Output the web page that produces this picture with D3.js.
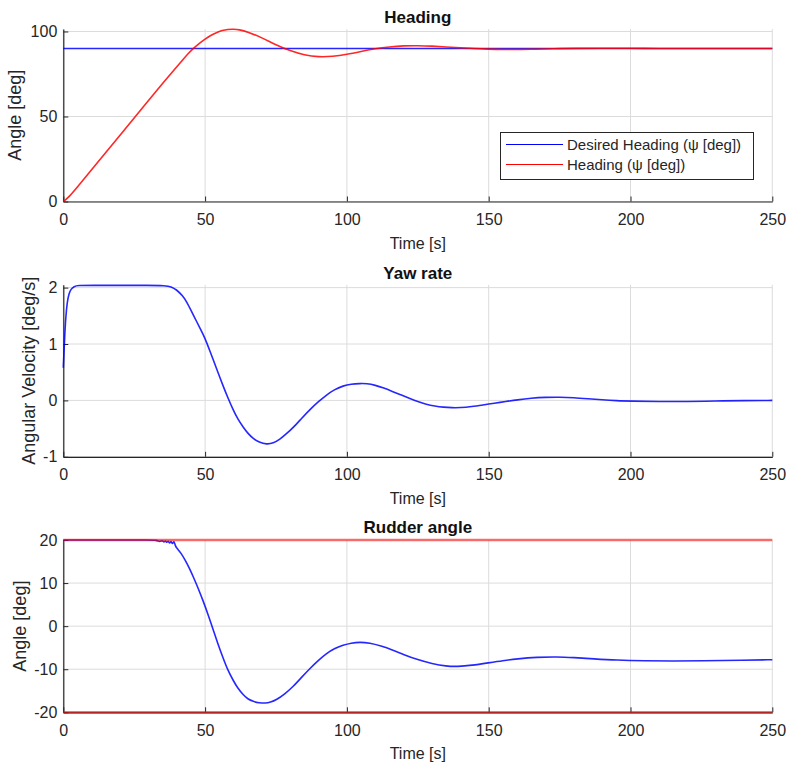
<!DOCTYPE html>
<html>
<head>
<meta charset="utf-8">
<script src="https://cdn.jsdelivr.net/npm/d3@7"></script>
<style>
  body { margin: 0; background: #fff; }
  svg { display: block; }
  text { font-family: "Liberation Sans", Arial, sans-serif; fill: #262626; }
</style>
</head>
<body>
<div id="chart"></div>
<script>
// ---- data ----
const timeTicks = [0, 50, 100, 150, 200, 250];

// heading
const headingTime = [0, 2, 5, 10, 20, 30, 35, 40, 42, 44, 46, 48, 50, 52, 54, 56, 58, 60, 62, 65, 70, 75, 80, 85, 90, 95, 100, 105, 110, 115, 120, 125, 130, 135, 140, 145, 150, 155, 160, 165, 170, 175, 180, 190, 200, 210, 220, 230, 250];
const headingDeg = [0, 2.6, 8.6, 18.7, 39, 59.3, 69.4, 79.2, 83.1, 87, 90.3, 93.1, 95.6, 97.7, 99.4, 100.6, 101.3, 101.4, 101.1, 99.8, 96.4, 92.1, 88.6, 86.1, 85, 85.3, 86.5, 88.2, 89.9, 91, 91.6, 91.7, 91.4, 90.9, 90.4, 90, 89.6, 89.4, 89.4, 89.5, 89.7, 89.9, 90.05, 90.15, 90.1, 90.02, 89.97, 90, 90];
const desiredTime = [0, 250];
const desiredDeg = [90, 90];
const headingTicks = [0, 50, 100];

// yaw rate
const yawTime = [0, 0.2, 0.5, 0.9, 1.4, 2, 2.8, 3.8, 5, 10, 20, 30, 36, 38, 40, 42, 43.5, 45, 47, 48.5, 50, 51.5, 52.9, 54.5, 56.4, 58, 59.9, 61.5, 63.5, 65, 67, 69, 71.7, 74, 76.4, 78.5, 81.1, 84, 87, 90, 92.9, 95.5, 98.7, 101.5, 104.6, 107, 110, 113, 116, 119, 122, 125, 128, 131, 134, 137, 140, 144, 148, 152, 156, 160, 165, 170, 175, 180, 185, 190, 195, 200, 210, 220, 230, 240, 250];
const yawRate = [0.58, 0.8, 1.15, 1.5, 1.75, 1.9, 1.98, 2.02, 2.04, 2.04, 2.04, 2.04, 2.035, 2.02, 1.96, 1.86, 1.75, 1.6, 1.4, 1.25, 1.1, 0.9, 0.72, 0.5, 0.25, 0.05, -0.17, -0.33, -0.48, -0.58, -0.68, -0.74, -0.78, -0.76, -0.69, -0.6, -0.48, -0.32, -0.16, -0.02, 0.1, 0.19, 0.26, 0.29, 0.3, 0.3, 0.27, 0.22, 0.16, 0.1, 0.04, -0.02, -0.07, -0.1, -0.12, -0.13, -0.13, -0.11, -0.08, -0.05, -0.02, 0.01, 0.04, 0.055, 0.058, 0.05, 0.03, 0.01, -0.005, -0.012, -0.02, -0.02, -0.01, -0.003, 0];
const yawTicks = [-1, 0, 1, 2];

// rudder angle
const rudderTime = [0, 10, 20, 30, 33, 34, 35, 35.5, 36, 36.5, 37, 37.5, 38, 38.5, 39, 39.5, 40, 41.5, 43, 44.5, 46, 47.5, 49.4, 51, 52.9, 54.5, 56.4, 58, 59.9, 61.5, 63.5, 65, 67, 69, 71.3, 73, 75.2, 78, 81.1, 84, 87, 90, 92.9, 95.5, 98.7, 101.5, 104.6, 108, 112, 116, 120, 125, 130, 135, 139, 144, 150, 155, 160, 167, 174, 180, 187, 195, 205, 215, 225, 240, 250];
const rudderDeg = [20, 20, 20, 20, 20, 19.5, 20, 19.3, 20, 19.2, 20, 19, 20, 18.8, 20, 18.6, 18.1, 17, 15.3, 13.4, 11.2, 8.9, 5.7, 2.8, -0.9, -4.1, -7.5, -10.2, -12.6, -14.4, -16, -16.9, -17.5, -17.8, -17.9, -17.7, -17.1, -15.8, -14, -11.9, -9.8, -7.9, -6.3, -5.2, -4.4, -3.9, -3.7, -3.9, -4.6, -5.5, -6.6, -7.8, -8.7, -9.3, -9.4, -9.1, -8.5, -8, -7.6, -7.2, -7.1, -7.3, -7.6, -7.9, -8.05, -8.1, -8.05, -7.9, -7.8];
const limitTime = [0, 250];
const rudderMax = [20, 20];
const rudderMin = [-20, -20];
const rudderTicks = [-20, -10, 0, 10, 20];

// ---- layout ----
const width = 792, height = 770;
const svg = d3.select('#chart').append('svg')
  .attr('width', width)
  .attr('height', height);

const x = d3.scaleLinear().domain([0, 250]).range([63.3, 772.3]);
const plainNum = d => String(d);   // matlab style: hyphen minus, no decimals

function drawPanel(cfg) {
  const y = d3.scaleLinear().domain(cfg.domain).range([cfg.bottom, cfg.top]);
  const g = svg.append('g');

  // grid
  g.append('g').selectAll('line')
    .data(timeTicks)
    .join('line')
    .attr('x1', d => x(d)).attr('x2', d => x(d))
    .attr('y1', cfg.top).attr('y2', cfg.bottom)
    .attr('stroke', '#dcdcdc').attr('stroke-width', 1);
  g.append('g').selectAll('line')
    .data(cfg.ticks)
    .join('line')
    .attr('x1', x(0)).attr('x2', x(250))
    .attr('y1', d => y(d)).attr('y2', d => y(d))
    .attr('stroke', '#dcdcdc').attr('stroke-width', 1);

  // axes
  const xAxis = g.append('g')
    .attr('transform', `translate(0,${cfg.bottom})`)
    .call(d3.axisBottom(x).tickValues(timeTicks).tickFormat(plainNum)
      .tickSizeInner(-5).tickSizeOuter(0).tickPadding(12));
  const yAxis = g.append('g')
    .attr('transform', `translate(${x(0)},0)`)
    .call(d3.axisLeft(y).tickValues(cfg.ticks).tickFormat(plainNum)
      .tickSizeInner(-5).tickSizeOuter(0).tickPadding(6));
  [xAxis, yAxis].forEach(a => {
    a.select('.domain').attr('stroke', '#262626').attr('stroke-width', 1.2);
    a.selectAll('.tick line').attr('stroke', '#262626');
    a.selectAll('.tick text').attr('fill', '#262626').style('font-size', '16px')
      .style('font-family', '"Liberation Sans", Arial, sans-serif');
  });

  // lines
  cfg.series.forEach(s => {
    const line = d3.line()
      .x((d, i) => x(s.t[i]))
      .y(d => y(d))
      .curve(s.t.length > 2 ? d3.curveBasis : d3.curveLinear);
    g.append('path')
      .datum(s.v)
      .attr('fill', 'none')
      .attr('stroke', s.color)
      .attr('stroke-width', s.w)
      .attr('stroke-opacity', s.o || 1)
      .attr('d', line);
  });

  // labels
  g.append('text')
    .attr('x', (x(0) + x(250)) / 2).attr('y', cfg.titleY)
    .attr('text-anchor', 'middle')
    .style('font-size', '17px').style('font-weight', 'bold').style('fill', '#111')
    .text(cfg.title);
  g.append('text')
    .attr('x', (x(0) + x(250)) / 2).attr('y', cfg.bottom + 47)
    .attr('text-anchor', 'middle')
    .style('font-size', '16px')
    .text('Time [s]');
  g.append('text')
    .attr('transform', `translate(${cfg.ylabelX},${(cfg.top + cfg.bottom) / 2}) rotate(-90)`)
    .attr('text-anchor', 'middle')
    .style('font-size', '18px')
    .text(cfg.ylabel);
  return { g, y };
}

drawPanel({
  domain: [0, 101.4], top: 29.1, bottom: 201.5, ticks: headingTicks,
  title: 'Heading', titleY: 23, ylabel: 'Angle [deg]', ylabelX: 21,
  series: [
    { t: desiredTime, v: desiredDeg, color: '#0000ff', w: 1.6, o: 0.85 },
    { t: headingTime, v: headingDeg, color: '#ff0000', w: 1.6, o: 0.85 }
  ]
});

drawPanel({
  domain: [-1, 2.05], top: 284.8, bottom: 456.8, ticks: yawTicks,
  title: 'Yaw rate', titleY: 279, ylabel: 'Angular Velocity [deg/s]', ylabelX: 35,
  series: [
    { t: yawTime, v: yawRate, color: '#0000ff', w: 1.6, o: 0.85 }
  ]
});

drawPanel({
  domain: [-20, 20], top: 540, bottom: 712.3, ticks: rudderTicks,
  title: 'Rudder angle', titleY: 533, ylabel: 'Angle [deg]', ylabelX: 26,
  series: [
    { t: rudderTime, v: rudderDeg, color: '#0000ff', w: 1.6, o: 0.85 },
    { t: limitTime, v: rudderMax, color: '#ff0000', w: 2.6, o: 0.55 },
    { t: limitTime, v: rudderMin, color: '#ff0000', w: 2.6, o: 0.55 }
  ]
});

// legend for heading panel
const legend = svg.append('g');
legend.append('rect')
  .attr('x', 500.5).attr('y', 132.5).attr('width', 253).attr('height', 47)
  .attr('fill', '#fff').attr('stroke', '#262626').attr('stroke-width', 1);
const legendItems = [
  { label: 'Desired Heading (ψ [deg])', color: '#0000ff' },
  { label: 'Heading (ψ [deg])', color: '#ff0000' }
];
legendItems.forEach((d, i) => {
  const yy = 144.5 + i * 20;
  legend.append('line')
    .attr('x1', 506).attr('x2', 563).attr('y1', yy).attr('y2', yy)
    .attr('stroke', d.color).attr('stroke-width', 1.2);
  legend.append('text')
    .attr('x', 567).attr('y', yy + 5.5)
    .style('font-size', '15px')
    .text(d.label);
});
</script>
</body>
</html>
